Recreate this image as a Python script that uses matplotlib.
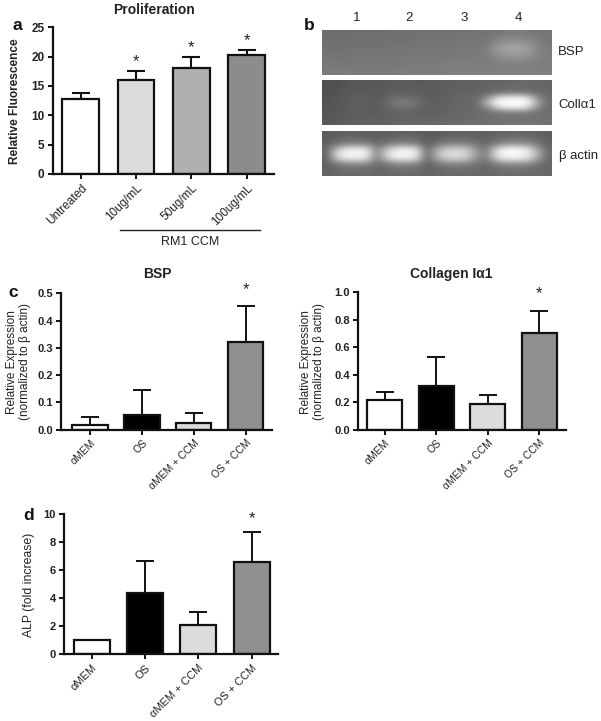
import matplotlib
matplotlib.use("Agg")
import matplotlib.pyplot as plt
import numpy as np

plt.rcParams['font.family'] = ['Liberation Sans', 'DejaVu Sans']

W, H = 601, 721

# ---- data ----
prolif_labels = ['Untreated', '10ug/mL', '50ug/mL', '100ug/mL']
prolif_values = [12.8, 16.0, 18.1, 20.3]
prolif_errors = [1.0, 1.5, 1.8, 0.9]
prolif_colors = ['#ffffff', '#dcdcdc', '#b0b0b0', '#8c8c8c']
prolif_stars = [1, 2, 3]

treat_labels = ['αMEM', 'OS', 'αMEM + CCM', 'OS + CCM']
treat_colors = ['#ffffff', '#000000', '#dcdcdc', '#8f8f8f']
bsp_values = [0.017, 0.055, 0.023, 0.32]
bsp_errors = [0.028, 0.092, 0.039, 0.133]
coll_values = [0.215, 0.32, 0.19, 0.70]
coll_errors = [0.06, 0.205, 0.065, 0.16]
alp_values = [1.0, 4.35, 2.12, 6.6]
alp_errors = [0.0, 2.3, 0.92, 2.1]

# gel brightness tables: rows top to bottom, columns left to right (grey level)
gel_bsp = [
    [108,108,110,110,110,110,110,112,112,112,112,114,114,114,114,114,116,118,120,122,120,118,118],
    [110,110,110,112,112,112,112,112,114,114,114,114,116,116,116,116,118,124,130,130,128,122,118],
    [112,112,112,114,114,112,114,114,114,116,116,116,116,118,118,118,120,136,146,146,142,128,120],
    [114,112,114,114,114,114,114,116,116,116,118,118,118,118,120,120,124,150,164,164,158,134,122],
    [116,114,116,116,116,116,116,118,118,118,118,120,120,120,120,122,126,150,160,162,156,134,124],
    [118,116,116,118,118,118,118,118,120,120,120,120,122,122,122,122,124,136,146,146,142,130,124],
    [120,118,118,120,120,120,120,120,122,122,122,122,124,124,124,124,124,128,132,132,130,126,124],
    [122,122,120,122,122,122,122,122,124,124,124,124,126,126,126,126,126,126,128,128,126,126,126],
    [124,124,124,124,124,124,124,124,126,126,126,126,128,128,128,128,128,128,128,128,128,128,128],
]
gel_coll = [
    [ 78, 80, 84, 88, 88, 86, 88, 92, 92, 90, 90, 92, 94, 96, 96, 96, 98,100,102,104,104,102,100],
    [ 80, 82, 86, 88, 90, 88, 90, 92, 94, 92, 92, 94, 94, 96, 98, 98,100,102,106,106,106,104,102],
    [ 80, 84, 88, 92, 92, 88, 92, 96, 96, 94, 92, 92, 96, 98,100,100,104,112,118,118,116,108,104],
    [ 82, 86, 90, 94, 94, 88,100,110,110,104, 94, 94, 96,100,102,104,136,210,238,238,226,140,106],
    [ 84, 88, 92, 96, 96, 90,108,124,124,116, 96, 94, 98,100,104,108,180,255,255,255,255,176,108],
    [ 84, 88, 90, 94, 94, 92,100,110,112,104, 96, 96, 98,102,104,106,136,205,235,235,222,140,108],
    [ 86, 88, 92, 94, 94, 92, 96, 98,100, 98, 96, 98,100,102,104,106,110,116,124,124,122,114,110],
    [ 86, 90, 92, 96, 96, 94, 98,100,100,100,100,100,102,104,106,108,110,112,114,114,114,112,112],
    [ 88, 92, 94, 98, 98, 98,100,102,102,102,102,104,104,106,108,110,112,114,116,116,116,116,114],
]
gel_actin = [
    [ 92, 94, 96, 96, 94, 92, 94, 96, 98, 96, 90, 92, 96, 98, 98, 96, 94, 98,102,102,100, 98, 92],
    [ 94,100,106,106,104, 96,102,108,108,106, 92, 98,106,108,108,102, 98,108,114,114,112,106, 96],
    [ 96,116,128,130,128,104,120,132,132,128, 94,112,128,130,128,116,104,130,142,144,140,122,100],
    [100,180,222,228,220,118,186,224,228,214, 96,160,196,200,192,138,118,205,242,240,226,160,104],
    [102,224,252,250,244,124,222,254,252,240, 98,186,224,226,212,150,128,236,255,252,242,186,106],
    [100,196,232,228,224,120,198,232,230,218, 96,168,204,208,196,140,120,210,236,234,224,166,104],
    [ 98,128,144,144,142,106,126,144,144,138, 96,120,136,138,132,118,108,132,146,146,142,124,102],
    [ 98,104,110,110,110,100,106,112,112,110, 98,104,110,112,110,106,102,110,114,114,112,108,102],
    [100,102,104,104,104,102,104,106,106,104,100,102,106,106,106,104,104,106,108,108,108,106,104],
]
gel_tables = [gel_bsp, gel_coll, gel_actin]
gel_names = ['BSP', 'Collα1', 'β actin']
lane_labels = ['1', '2', '3', '4']


def axes_px(fig, x0, x1, y_top, y_bottom):
    return fig.add_axes([x0 / W, 1 - y_bottom / H, (x1 - x0) / W, (y_bottom - y_top) / H])


def bar_panel(fig, box, xlim, ylim, ticks, fmt, labels, values, errors, colors, width,
              ylabel, title, title_xy, stars, star_offset, tick_fs, lab_fs, xlab_fs, xlab_bold,
              elw=1.4, ylab_weight='normal', ylab_x=None):
    ax = axes_px(fig, *box)
    x = np.arange(len(values))
    ax.bar(x, values, width=width, color=colors, edgecolor='#111111', linewidth=1.6, zorder=2)
    for xi, v, e in zip(x, values, errors):
        if e > 0:
            ax.errorbar(xi, v, yerr=[[0], [e]], color='#111111', elinewidth=elw, capsize=6.6,
                        capthick=elw, zorder=1)
    ax.set_xlim(*xlim)
    ax.set_ylim(*ylim)
    ax.set_yticks(ticks)
    ax.set_yticklabels([fmt.format(t) for t in ticks], fontsize=tick_fs, fontweight='bold', color='#222222')
    ax.set_xticks(x)
    ax.set_xticklabels(labels, rotation=45, ha='right', rotation_mode='anchor', fontsize=xlab_fs,
                       fontweight=xlab_bold, color='#222222')
    ax.tick_params(axis='both', width=1.4, length=3.5, color='#111111', pad=2.5)
    for s in ['top', 'right']:
        ax.spines[s].set_visible(False)
    for s in ['left', 'bottom']:
        ax.spines[s].set_linewidth(1.6)
        ax.spines[s].set_color('#111111')
    ax.set_ylabel(ylabel, fontsize=lab_fs, fontweight=ylab_weight, color='#222222',
                  linespacing=1.2, va='center', ha='center')
    if ylab_x is not None:
        ax.yaxis.set_label_coords(ylab_x[0] / W, 1 - ylab_x[1] / H, transform=fig.transFigure)
    for i in stars:
        ax.text(i, values[i] + errors[i] + star_offset, '*', ha='center', va='center', fontsize=12,
                color='#222222', clip_on=False)
    if title:
        fig.text(title_xy[0] / W, 1 - title_xy[1] / H, title, ha='center', va='center', fontsize=title_fs,
                 fontweight='bold', color='#222222')
    return ax


title_fs = 10
fig = plt.figure(figsize=(W / 100, H / 100), dpi=100, facecolor='white')

# a
bar_panel(fig, (52.7, 274, 27.3, 174), (-0.506, 3.495), (0, 25), [0, 5, 10, 15, 20, 25], '{:d}',
          prolif_labels, prolif_values, prolif_errors, prolif_colors, 0.663,
          'Relative Fluorescence', 'Proliferation', (153.5, 10), prolif_stars, 1.6, 8.5, 8.6, 8.5, 'normal',
          elw=1.5, ylab_weight='bold', ylab_x=(15.5, 101))
fig.add_artist(plt.Line2D([120 / W, 260 / W], [1 - 229.5 / H] * 2, color='#222222', lw=1))
fig.text(190 / W, 1 - 242 / H, 'RM1 CCM', ha='center', va='center', fontsize=9, color='#222222')

# c
bar_panel(fig, (61, 271.7, 293.3, 429.7), (-0.56, 3.5), (0, 0.5), [0, 0.1, 0.2, 0.3, 0.4, 0.5], '{:.1f}',
          treat_labels, bsp_values, bsp_errors, treat_colors, 0.68,
          'Relative Expression\n(normalized to β actin)', 'BSP', (157, 274), [3], 0.062, 8, 8.5, 7.5, 'normal',
          ylab_x=(18.5, 362))

# collagen
bar_panel(fig, (358.3, 566, 292, 429.7), (-0.51, 3.52), (0, 1.0), [0, 0.2, 0.4, 0.6, 0.8, 1.0], '{:.1f}',
          treat_labels, coll_values, coll_errors, treat_colors, 0.68,
          'Relative Expression\n(normalized to β actin)', 'Collagen Iα1', (451, 274), [3], 0.13, 8, 8.5, 7.5, 'normal',
          ylab_x=(312.5, 362))

# d
bar_panel(fig, (64.3, 278.3, 514, 654.3), (-0.51, 3.5), (0, 10), [0, 2, 4, 6, 8, 10], '{:d}',
          treat_labels, alp_values, alp_errors, treat_colors, 0.675,
          'ALP (fold increase)', '', (0, 0), [3], 0.95, 8, 8.8, 8, 'normal',
          ylab_x=(29, 584.5))

# b gels
gel_boxes = [(322.3, 551.7, 30, 75.3), (322.3, 551.7, 80, 125), (322.3, 551.7, 131.3, 175.7)]
for table, box, name, y, lx in zip(gel_tables, gel_boxes, gel_names, [52, 105, 155.7], [558, 558, 559]):
    ax = axes_px(fig, *box)
    ax.imshow(np.array(table, dtype=float), cmap='gray', vmin=0, vmax=255, aspect='auto',
              interpolation='bicubic')
    ax.axis('off')
    fig.text(lx / W, 1 - y / H, name, ha='left', va='center', fontsize=9.5, color='#222222')
for lab, x in zip(lane_labels, [356.7, 409, 463.7, 518]):
    fig.text(x / W, 1 - 18 / H, lab, ha='center', va='center', fontsize=9.5, color='#222222')

# panel letters
for s, x, y in [('a', 17, 26), ('b', 309, 26), ('c', 13, 292.5), ('d', 29, 515)]:
    fig.text(x / W, 1 - y / H, s, ha='center', va='center', fontsize=12.5, fontweight='bold', color='#111111')

fig.savefig('out.png', dpi=100)
